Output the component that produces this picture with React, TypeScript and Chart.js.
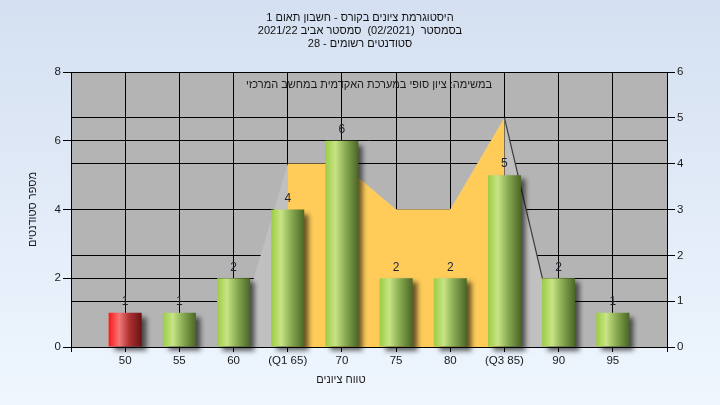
import React, { useEffect, useRef } from 'react';
import { Chart, registerables } from 'chart.js';

Chart.register(...registerables);

const titleLines = [
  'היסטוגרמת ציונים בקורס - חשבון תאום 1',
  'בסמסטר  (02/2021)  סמסטר אביב 2021/22',
  'סטודנטים רשומים - 28',
];
const noteText = 'במשימה: ציון סופי במערכת האקדמית במחשב המרכזי';
const xAxisTitle = 'טווח ציונים';
const yAxisTitle = 'מספר סטודנטים';

const gradeLabels = ['50', '55', '60', '(Q1 65)', '70', '75', '80', '(Q3 85)', '90', '95'];
const studentCounts = [1, 1, 2, 4, 6, 2, 2, 5, 2, 1];
const failingGrades = ['50'];
const curveValues = [null, null, 0, 4, 4, 3, 3, 5, 0, null];
const quartileValues = [null, null, null, 4, 4, 3, 3, 5, null, null];
const leftAxis = { min: 0, max: 8, step: 2 };
const rightAxis = { min: 0, max: 6, step: 1 };

const FONT = "'Liberation Sans', Arial, sans-serif";
const TEXT_SIZE = 11;
const TICK_SIZE = 11.5;
const BAR_FRACTION = 0.61;

// padded with an empty slot at each end of the axis
const labels = ['', ...gradeLabels, ''];
const pad = (arr: (number | null)[]) => [null, ...arr, null];
const q3Index = gradeLabels.indexOf('(Q3 85)') + 1;

function barFill(ctx: any) {
  const chart = ctx.chart;
  const area = chart.chartArea;
  const label = labels[ctx.dataIndex];
  const red = failingGrades.includes(label);
  if (!area || ctx.type !== 'data') return red ? '#e03030' : '#9c4';
  const cx = chart.scales.x.getPixelForValue(ctx.dataIndex);
  const half = ((area.right - area.left) / (labels.length - 1)) * BAR_FRACTION / 2;
  const g = chart.ctx.createLinearGradient(cx - half, 0, cx + half, 0);
  if (red) {
    g.addColorStop(0, '#ff1414');
    g.addColorStop(0.32, '#f27878');
    g.addColorStop(0.62, '#b03232');
    g.addColorStop(1, '#681212');
  } else {
    g.addColorStop(0, '#9ccc44');
    g.addColorStop(0.3, '#c8e486');
    g.addColorStop(0.6, '#8aac52');
    g.addColorStop(1, '#4a6626');
  }
  return g;
}

const plotBackground = {
  id: 'plotBackground',
  beforeDraw(chart: any) {
    const { ctx, chartArea: a } = chart;
    ctx.save();
    ctx.fillStyle = '#b4b4b4';
    ctx.fillRect(a.left, a.top, a.right - a.left, a.bottom - a.top);
    ctx.restore();
  },
};

const barShadow = {
  id: 'barShadow',
  beforeDatasetDraw(chart: any, args: any) {
    if (args.index !== 0) return;
    const ctx = chart.ctx;
    ctx.save();
    ctx.shadowColor = 'rgba(0,0,0,0.6)';
    ctx.shadowBlur = 5;
    ctx.shadowOffsetX = 5;
    ctx.shadowOffsetY = 4;
  },
  afterDatasetDraw(chart: any, args: any) {
    if (args.index !== 0) return;
    chart.ctx.restore();
  },
};

const textLayer = {
  id: 'textLayer',
  afterDatasetsDraw(chart: any) {
    const { ctx, chartArea: a } = chart;
    const meta = chart.getDatasetMeta(0);
    ctx.save();
    ctx.font = `12px ${FONT}`;
    ctx.textAlign = 'center';
    ctx.textBaseline = 'middle';
    ctx.fillStyle = '#1c2433';
    meta.data.forEach((el: any, i: number) => {
      const v = chart.data.datasets[0].data[i];
      if (v == null) return;
      ctx.fillText(String(v), el.x, el.y - 11);
    });
    ctx.font = `${TEXT_SIZE}px ${FONT}`;
    ctx.fillStyle = '#1a1a1a';
    ctx.fillText(noteText, (a.left + a.right) / 2, a.top + 13);
    ctx.fillText(xAxisTitle, 341, 380);
    ctx.restore();
  },
};

export default function App() {
  const ref = useRef<HTMLCanvasElement | null>(null);
  useEffect(() => {
    if (!ref.current) return;
    const tickFont = { family: FONT, size: TICK_SIZE };
    const chart = new Chart(ref.current, {
      type: 'bar',
      data: {
        labels,
        datasets: [
          {
            type: 'bar',
            data: pad(studentCounts),
            yAxisID: 'y',
            backgroundColor: barFill,
            borderWidth: 0,
            barPercentage: 1,
            categoryPercentage: BAR_FRACTION,
            clip: false as any,
            order: 0,
          },
          {
            type: 'line',
            data: pad(quartileValues),
            yAxisID: 'y1',
            fill: 'origin',
            backgroundColor: '#ffcc5a',
            borderWidth: 0,
            borderColor: 'rgba(0,0,0,0)',
            pointRadius: 0,
            tension: 0,
            order: 1,
          },
          {
            type: 'line',
            data: pad(curveValues),
            yAxisID: 'y1',
            fill: 'origin',
            backgroundColor: '#c0c0c0',
            borderWidth: 1.2,
            borderColor: 'rgba(0,0,0,0)',
            segment: {
              borderColor: (c: any) => (c.p0DataIndex === q3Index ? '#3c3c3c' : 'rgba(0,0,0,0)'),
            },
            pointRadius: 0,
            tension: 0,
            order: 2,
          },
        ] as any,
      },
      options: {
        animation: false,
        responsive: true,
        maintainAspectRatio: false,
        events: [],
        layout: { padding: 0 },
        plugins: {
          legend: { display: false },
          tooltip: { enabled: false },
          title: {
            display: true,
            text: titleLines,
            color: '#111111',
            font: { family: FONT, size: TEXT_SIZE, weight: 'normal', lineHeight: '13px' },
            padding: { top: 11, bottom: 22 },
          },
        },
        scales: {
          x: {
            type: 'category',
            offset: false,
            grid: { color: '#000', offset: false, tickLength: 5, lineWidth: 1 },
            border: { color: '#000', z: 1 },
            ticks: { color: '#1a1a1a', font: tickFont, autoSkip: false, maxRotation: 0, padding: 2 },
            afterFit: (s: any) => { s.height = 58; },
          },
          y: {
            position: 'left',
            min: leftAxis.min,
            max: leftAxis.max,
            ticks: { stepSize: leftAxis.step, color: '#1a1a1a', font: tickFont, padding: 2 },
            grid: { color: '#000', tickLength: 8 },
            border: { color: '#000', z: 1 },
            title: {
              display: true,
              text: yAxisTitle,
              color: '#1a1a1a',
              font: { family: FONT, size: TEXT_SIZE },
              padding: { top: 26, bottom: 0 },
            },
            afterFit: (s: any) => { s.width = 71; },
          },
          y1: {
            position: 'right',
            min: rightAxis.min,
            max: rightAxis.max,
            ticks: { stepSize: rightAxis.step, color: '#1a1a1a', font: tickFont, padding: 2 },
            grid: { color: '#000', tickLength: 8, drawOnChartArea: true },
            border: { color: '#000', z: 1 },
            afterFit: (s: any) => { s.width = 53; },
          },
        },
      } as any,
      plugins: [plotBackground, barShadow, textLayer],
    });
    return () => chart.destroy();
  }, []);
  return (
    <div
      style={{
        position: 'fixed',
        left: 0,
        top: 0,
        width: 720,
        height: 405,
        background: 'linear-gradient(to bottom, #d4e0f1, #eff6fe)',
      }}
    >
      <canvas ref={ref} />
    </div>
  );
}
